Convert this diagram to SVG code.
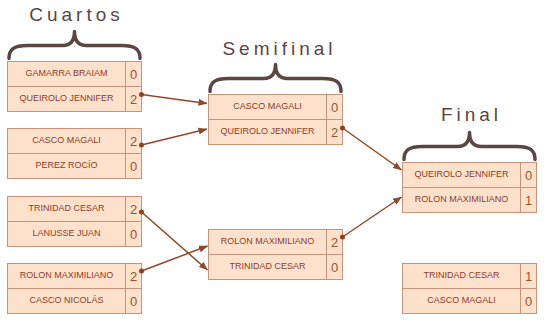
<svg xmlns="http://www.w3.org/2000/svg" width="544" height="321" viewBox="0 0 544 321">
<style>
.box{fill:#fde1ca;stroke:#c9927a;stroke-width:1}
.div{stroke:#c9927a;stroke-width:1}
.nm{font-family:"Liberation Sans",Arial,sans-serif;font-size:9px;fill:#8e3d2c;text-anchor:middle}
.sc{font-family:"Liberation Sans",Arial,sans-serif;font-size:13px;fill:#a2512f;text-anchor:middle}
.ttl{font-family:"Liberation Sans",Arial,sans-serif;font-size:19px;fill:#5a4646;letter-spacing:4px;text-anchor:middle}
.brace{fill:none;stroke:#5c4545;stroke-width:3.5;stroke-linecap:round;stroke-linejoin:round}
.con{stroke:#93472a;stroke-width:1.5;fill:none}
.dot{fill:#93401f}
</style>
<defs>
<marker id="arr" markerUnits="userSpaceOnUse" markerWidth="9" markerHeight="7" refX="8.5" refY="3.5" orient="auto">
<path d="M0,0 L9,3.5 L0,7 Z" fill="#93472a"/>
</marker>
<path id="br" class="brace" d="M1.5,-3 C1.5,-12 6,-16 20,-16 L55,-16 C63,-16 67,-21 67,-30 C67,-21 71,-16 79,-16 L114,-16 C128,-16 132.5,-12 132.5,-3"/>
<g id="m">
<rect class="box" x="0" y="0" width="134" height="50"/>
<line class="div" x1="0" y1="25" x2="134" y2="25"/>
<line class="div" x1="118" y1="0" x2="118" y2="50"/>
</g>
</defs>

<g id="title-cuartos">
<text class="ttl" x="76.5" y="21">Cuartos</text>
<use href="#br" transform="translate(7.5,61.5)"/>
</g>
<g id="title-semifinal">
<text class="ttl" x="279.5" y="55">Semifinal</text>
<use href="#br" transform="translate(208.5,94.5)"/>
</g>
<g id="title-final">
<text class="ttl" x="471.5" y="121">Final</text>
<use href="#br" transform="translate(402.5,162.5)"/>
</g>

<g id="q1" transform="translate(7.5,61.5)">
<use href="#m"/>
<text class="nm" x="59" y="14.5">GAMARRA BRAIAM</text>
<text class="sc" x="126" y="17.5">0</text>
<text class="nm" x="59" y="39.5">QUEIROLO JENNIFER</text>
<text class="sc" x="126" y="42.5">2</text>
</g>
<g id="q2" transform="translate(7.5,128.5)">
<use href="#m"/>
<text class="nm" x="59" y="14.5">CASCO MAGALI</text>
<text class="sc" x="126" y="17.5">2</text>
<text class="nm" x="59" y="39.5">PEREZ ROCÍO</text>
<text class="sc" x="126" y="42.5">0</text>
</g>
<g id="q3" transform="translate(7.5,196.5)">
<use href="#m"/>
<text class="nm" x="59" y="14.5">TRINIDAD CESAR</text>
<text class="sc" x="126" y="17.5">2</text>
<text class="nm" x="59" y="39.5">LANUSSE JUAN</text>
<text class="sc" x="126" y="42.5">0</text>
</g>
<g id="q4" transform="translate(7.5,263.5)">
<use href="#m"/>
<text class="nm" x="59" y="14.5">ROLON MAXIMILIANO</text>
<text class="sc" x="126" y="17.5">2</text>
<text class="nm" x="59" y="39.5">CASCO NICOLÁS</text>
<text class="sc" x="126" y="42.5">0</text>
</g>
<g id="s1" transform="translate(208.5,94.5)">
<use href="#m"/>
<text class="nm" x="59" y="14.5">CASCO MAGALI</text>
<text class="sc" x="126" y="17.5">0</text>
<text class="nm" x="59" y="39.5">QUEIROLO JENNIFER</text>
<text class="sc" x="126" y="42.5">2</text>
</g>
<g id="s2" transform="translate(208.5,229.5)">
<use href="#m"/>
<text class="nm" x="59" y="14.5">ROLON MAXIMILIANO</text>
<text class="sc" x="126" y="17.5">2</text>
<text class="nm" x="59" y="39.5">TRINIDAD CESAR</text>
<text class="sc" x="126" y="42.5">0</text>
</g>
<g id="f1" transform="translate(402.5,162.5)">
<use href="#m"/>
<text class="nm" x="59" y="14.5">QUEIROLO JENNIFER</text>
<text class="sc" x="126" y="17.5">0</text>
<text class="nm" x="59" y="39.5">ROLON MAXIMILIANO</text>
<text class="sc" x="126" y="42.5">1</text>
</g>
<g id="t1" transform="translate(402.5,263.5)">
<use href="#m"/>
<text class="nm" x="59" y="14.5">TRINIDAD CESAR</text>
<text class="sc" x="126" y="17.5">1</text>
<text class="nm" x="59" y="39.5">CASCO MAGALI</text>
<text class="sc" x="126" y="42.5">0</text>
</g>

<g id="connectors">
<line class="con" x1="141.5" y1="94.5" x2="207" y2="103.5" marker-end="url(#arr)"/>
<line class="con" x1="141.5" y1="145" x2="207" y2="129" marker-end="url(#arr)"/>
<line class="con" x1="141.5" y1="212" x2="207.5" y2="270" marker-end="url(#arr)"/>
<line class="con" x1="141.5" y1="271" x2="207.5" y2="246" marker-end="url(#arr)"/>
<line class="con" x1="342.5" y1="128" x2="401.5" y2="170" marker-end="url(#arr)"/>
<line class="con" x1="342.5" y1="237" x2="401.5" y2="197" marker-end="url(#arr)"/>
<circle class="dot" cx="141.5" cy="94.5" r="2.5"/>
<circle class="dot" cx="141.5" cy="145" r="2.5"/>
<circle class="dot" cx="141.5" cy="212" r="2.5"/>
<circle class="dot" cx="141.5" cy="271" r="2.5"/>
<circle class="dot" cx="342.5" cy="128" r="2.5"/>
<circle class="dot" cx="342.5" cy="237" r="2.5"/>
</g>
</svg>
